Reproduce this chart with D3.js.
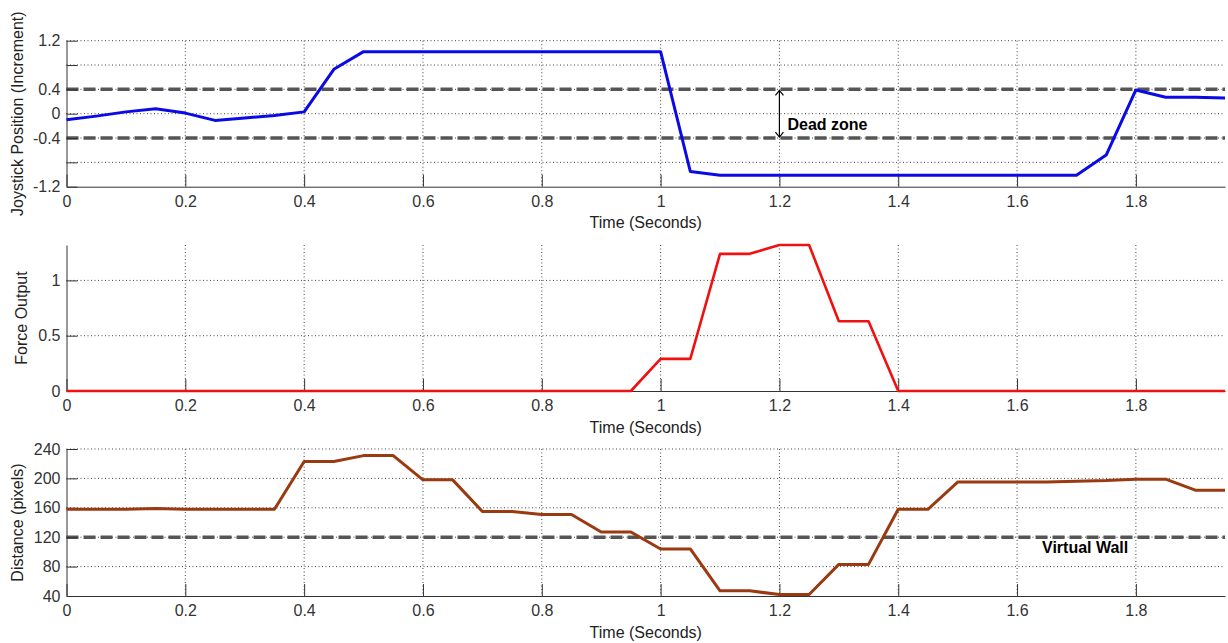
<!DOCTYPE html>
<html>
<head>
<meta charset="utf-8">
<script src="https://cdn.jsdelivr.net/npm/d3@7"></script>
<style>
  html, body { margin: 0; padding: 0; background: #fff; }
  svg { display: block; }
  text { font-family: "Liberation Sans", Arial, sans-serif; }
</style>
</head>
<body>
<svg id="chart" width="1228" height="643"></svg>
<script>
// ---------- data ----------
const time = [0, 0.05, 0.1, 0.15, 0.2, 0.25, 0.3, 0.35, 0.4, 0.45,
              0.5, 0.55, 0.6, 0.65, 0.7, 0.75, 0.8, 0.85, 0.9, 0.95,
              1.0, 1.05, 1.1, 1.15, 1.2, 1.25, 1.3, 1.35, 1.4, 1.45,
              1.5, 1.55, 1.6, 1.65, 1.7, 1.75, 1.8, 1.85, 1.9, 1.95];

const joystick = [-0.10, -0.04, 0.03, 0.08, 0.01, -0.11, -0.07, -0.03, 0.03, 0.73,
                  1.02, 1.02, 1.02, 1.02, 1.02, 1.02, 1.02, 1.02, 1.02, 1.02,
                  1.02, -0.95, -1.01, -1.01, -1.01, -1.01, -1.01, -1.01, -1.01, -1.01,
                  -1.01, -1.01, -1.01, -1.01, -1.01, -0.68, 0.39, 0.27, 0.27, 0.26];

const force = [0, 0, 0, 0, 0, 0, 0, 0, 0, 0,
               0, 0, 0, 0, 0, 0, 0, 0, 0, 0,
               0.29, 0.29, 1.24, 1.24, 1.32, 1.32, 0.63, 0.63, 0, 0,
               0, 0, 0, 0, 0, 0, 0, 0, 0, 0];

const distance = [158, 158, 158, 159, 158, 158, 158, 158, 223, 223,
                  231, 231, 198, 198, 155, 155, 151, 151, 127, 127,
                  104, 104, 47, 47, 42, 42, 83, 83, 158, 158,
                  195, 195, 195, 195, 196, 197, 199, 199, 184, 184];

const xTicks = [0, 0.2, 0.4, 0.6, 0.8, 1, 1.2, 1.4, 1.6, 1.8];
const xTickLabels = ["0", "0.2", "0.4", "0.6", "0.8", "1", "1.2", "1.4", "1.6", "1.8"];

const joyTicks = [-1.2, -0.8, -0.4, 0, 0.4, 0.8, 1.2];
const joyTickLabels = ["-1.2", "", "-0.4", "0", "0.4", "", "1.2"];
const deadZone = [-0.4, 0.4];

const forceTicks = [0, 0.5, 1];
const forceTickLabels = ["0", "0.5", "1"];

const distTicks = [40, 80, 120, 160, 200, 240];
const distTickLabels = ["40", "80", "120", "160", "200", "240"];
const virtualWall = [120];

// ---------- layout ----------
const svg = d3.select("#chart");
const xLeft = 66.5, xRight = 1225;
const x = d3.scaleLinear().domain([0, 1.95]).range([xLeft, xRight]);

const panels = [
  { top: 40.7, bottom: 186.7, domain: [-1.2, 1.2], ticks: joyTicks, labels: joyTickLabels,
    values: joystick, color: "#0a0ae6", width: 3, ylabel: "Joystick Position (Increment)", ylabelX: 17.5,
    dashed: deadZone },
  { top: 245, bottom: 391, domain: [0, 1.32], ticks: forceTicks, labels: forceTickLabels,
    values: force, color: "#f01010", width: 2.6, ylabel: "Force Output", ylabelX: 21.5,
    dashed: [] },
  { top: 449, bottom: 596, domain: [40, 240], ticks: distTicks, labels: distTickLabels,
    values: distance, color: "#9a3a10", width: 3, ylabel: "Distance (pixels)", ylabelX: 17.5,
    dashed: virtualWall }
];

const scales = [];

panels.forEach((p, i) => {
  const y = d3.scaleLinear().domain(p.domain).range([p.bottom, p.top]);
  scales.push(y);
  const g = svg.append("g");

  // grid
  const grid = g.append("g").attr("stroke", "#444").attr("stroke-width", 1)
    .attr("stroke-dasharray", "1,2.5").attr("fill", "none");
  grid.selectAll("line.vx").data(xTicks.filter(d => d > 0)).join("line")
    .attr("x1", d => x(d)).attr("x2", d => x(d))
    .attr("y1", p.top).attr("y2", p.bottom);
  grid.selectAll("line.hy").data(p.ticks.filter(d => d > p.domain[0])).join("line")
    .attr("x1", xLeft).attr("x2", xRight)
    .attr("y1", d => y(d)).attr("y2", d => y(d));

  // dashed reference lines
  g.selectAll("line.ref").data(p.dashed).join("line")
    .attr("x1", xLeft).attr("x2", xRight)
    .attr("y1", d => y(d)).attr("y2", d => y(d))
    .attr("stroke", "#555").attr("stroke-width", 3.5)
    .attr("stroke-dasharray", "12,5");

  // axes
  const yAxis = d3.axisLeft(y).tickValues(p.ticks)
    .tickFormat((d, k) => p.labels[k]).tickSizeInner(-11).tickSizeOuter(0).tickPadding(6);
  const ya = g.append("g").attr("transform", `translate(${xLeft},0)`).call(yAxis);
  const xAxis = d3.axisBottom(x).tickValues(xTicks)
    .tickFormat((d, k) => xTickLabels[k]).tickSizeInner(-12).tickSizeOuter(0).tickPadding(9);
  const xa = g.append("g").attr("transform", `translate(0,${p.bottom})`).call(xAxis);
  [ya, xa].forEach(a => {
    a.select(".domain").attr("stroke", "#333").attr("stroke-width", 1);
    a.selectAll(".tick line").attr("stroke", "#333").attr("stroke-width", 1);
    a.selectAll(".tick text").attr("fill", "#333").style("font-size", "16px")
      .style("font-family", "'Liberation Sans', Arial, sans-serif");
  });

  // data line
  const line = d3.line().x((d, k) => x(time[k])).y(d => y(d));
  g.append("path").datum(p.values).attr("d", line)
    .attr("fill", "none").attr("stroke", p.color).attr("stroke-width", p.width)
    .attr("stroke-linejoin", "round");

  // axis titles
  g.append("text")
    .attr("transform", `translate(${p.ylabelX},${(p.top + p.bottom) / 2}) rotate(-90)`)
    .attr("text-anchor", "middle").attr("dominant-baseline", "central")
    .attr("fill", "#222").style("font-size", "16px")
    .text(p.ylabel);
  g.append("text")
    .attr("x", (xLeft + xRight) / 2).attr("y", p.bottom + 36)
    .attr("text-anchor", "middle").attr("dominant-baseline", "central")
    .attr("fill", "#222").style("font-size", "16px")
    .text("Time (Seconds)");
});

// ---------- annotations ----------
const yJ = scales[0];
const ax = x(1.2);
const a1 = yJ(0.4), a2 = yJ(-0.4);
const ann = svg.append("g").attr("stroke", "#000").attr("stroke-width", 1.2).attr("fill", "none");
ann.append("line").attr("x1", ax).attr("x2", ax).attr("y1", a1 + 1).attr("y2", a2 - 1);
ann.append("path").attr("d", `M${ax - 4},${a1 + 6} L${ax},${a1 + 1} L${ax + 4},${a1 + 6}`);
ann.append("path").attr("d", `M${ax - 4},${a2 - 6} L${ax},${a2 - 1} L${ax + 4},${a2 - 6}`);

svg.append("text").attr("x", x(1.2) + 8).attr("y", yJ(-0.17))
  .attr("dominant-baseline", "central").attr("fill", "#000")
  .style("font-size", "16px").style("font-weight", "bold").text("Dead zone");

const yD = scales[2];
svg.append("text").attr("x", x(1.642)).attr("y", yD(106))
  .attr("dominant-baseline", "central").attr("fill", "#000")
  .style("font-size", "16px").style("font-weight", "bold").text("Virtual Wall");
</script>
</body>
</html>
